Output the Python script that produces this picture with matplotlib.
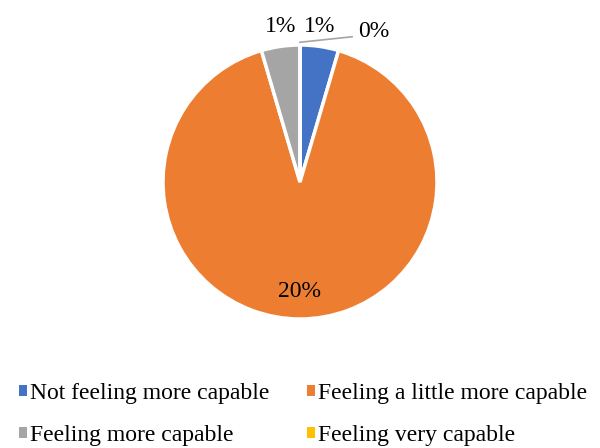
import numpy as np
import matplotlib
matplotlib.use("Agg")
import matplotlib.pyplot as plt
from matplotlib.patches import Patch

categories = ["Not feeling more capable", "Feeling a little more capable",
              "Feeling more capable", "Feeling very capable"]
values = [1, 20, 1, 0]
labels = ["1%", "20%", "1%", "0%"]
colors = ["#4472C4", "#ED7D31", "#A5A5A5", "#FFC000"]

plt.rcParams["font.family"] = ["Liberation Serif", "DejaVu Serif"]

fig = plt.figure(figsize=(6, 4.48), dpi=100)
ax = fig.add_axes([163 / 600, 129 / 448, 274 / 600, 274 / 448])

wedges, _ = ax.pie(values, colors=colors, startangle=90, counterclock=False,
                   radius=1, wedgeprops=dict(edgecolor="white", linewidth=2.5))
ax.set_xlim(-1, 1)
ax.set_ylim(-1, 1)
ax.set_aspect("equal")
ax.axis("off")

# data labels
label_r = [1.15, 0.8, 1.15, None]
for w, lab, r in zip(wedges, labels, label_r):
    mid = np.deg2rad((w.theta1 + w.theta2) / 2)
    if r is None:
        # zero-size slice: label with leader line
        ax.plot([0.0, 0.38], [1.02, 1.06], color="#A5A5A5", lw=1.2, clip_on=False)
        ax.text(0.54, 1.10, lab, ha="center", va="center", fontsize=17)
        continue
    x = r * np.cos(mid)
    y = r * np.sin(mid)
    if r > 1:
        x = 0.88 * x
    ax.text(x, y, lab, ha="center", va="center", fontsize=17)

# legend, filled row by row
order = [0, 2, 1, 3]
handles = [Patch(facecolor=colors[i], edgecolor="none") for i in order]
fig.legend(handles, [categories[i] for i in order], ncol=2, loc="lower left",
           bbox_to_anchor=(19 / 600, 2 / 448), frameon=False, fontsize=17,
           handlelength=0.32, handleheight=0.32, handletextpad=0.15,
           columnspacing=1.6, labelspacing=0.9, borderpad=0, borderaxespad=0)

fig.savefig("out.png", dpi=100)
